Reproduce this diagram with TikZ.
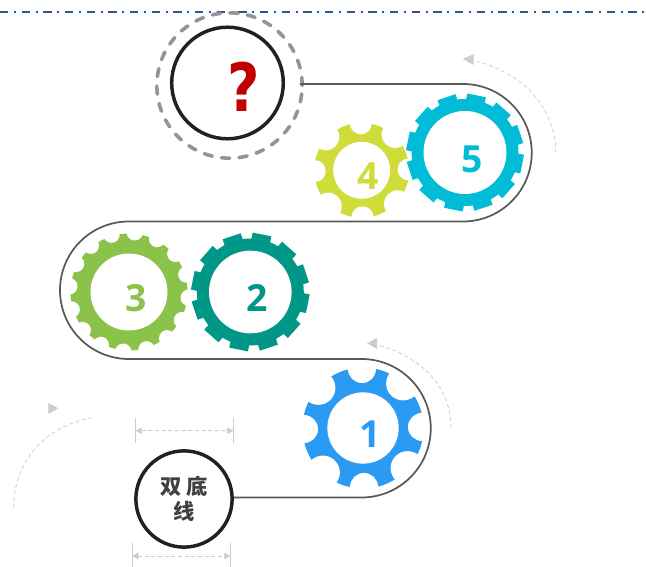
\documentclass[tikz,border=0pt]{standalone}
\usepackage{fontspec}
\setmainfont{Open Sans}
\newfontfamily\cjkfont{Noto Sans CJK SC}
\newfontfamily\markfont{DejaVu Sans}
\usetikzlibrary{arrows.meta,positioning}
\definecolor{gearone}{HTML}{2A9AF3}
\definecolor{geartwo}{HTML}{009688}
\definecolor{gearthree}{HTML}{8BC34A}
\definecolor{gearfour}{HTML}{CFDC39}
\definecolor{gearfive}{HTML}{00BCD6}
\definecolor{topblue}{HTML}{2F5597}
\definecolor{markred}{HTML}{C00000}
\tikzset{
    %Define standard arrow tip
    >={Triangle[length=6pt,width=6pt]},
    %Define style for gear holes
    hole/.style={
           circle,
           fill=white,
           inner sep=0pt,
           outer sep=0pt},
    % Define style for gear numbers
    num/.style={
           font=\bfseries\fontsize{28}{28}\selectfont,
           inner sep=0pt},
    % Define style for black circles
    blackring/.style={
           circle,
           draw=black!87,
           line width=2.6pt,
           inner sep=0pt},
    % Define track style
    track/.style={
           draw=black!65,
           line width=1.3pt},
    % Define style for thin gray arrows
    pil/.style={
           draw=black!20,
           line width=.55pt,
           dash pattern=on 3pt off 2pt},
    dim/.style={
           <->,
           >={Triangle[length=4.5pt,width=5pt]},
           draw=black!20,
           line width=.6pt,
           dash pattern=on 3pt off 2pt},
    tick/.style={
           draw=black!20,
           line width=.7pt}
}
\begin{document}
\begin{tikzpicture}[x=.75pt,y=.75pt]
\useasboundingbox (0,0) rectangle (646,567);
%Top line
\coordinate (topa) at (0,555.3);
\coordinate (topb) at (646,555.3);
\draw[draw=topblue, line width=1.5pt, dash pattern=on 6.25pt off 4.25pt on 1.5pt off 4.25pt] (topa) -- (topb);
%Gear centers
\coordinate (c1) at (363,139);
\coordinate (c2) at (250.3,275);
\coordinate (c3) at (129,275);
\coordinate (c4) at (361.7,396.7);
\coordinate (c5) at (465,414.5);
%Gear 4
\fill[gearfour] (c4) circle (47.5);
\foreach \a in {0,90,180,270} \fill[white] (c4) ++(\a+1:47) circle (11);
\foreach \a in {45,135,225,315} \fill[white] (c4) ++(\a+2:49) circle (13.5);
\node[hole, minimum size=42.75pt] (gear4) at (c4) {};
%Gear 5
\fill[gearfive] (c5) circle (53.5);
\foreach \a in {0,30,...,330} \fill[gearfive, shift={(c5)}, rotate=\a-11.5] (-9.5,50) rectangle (9.5,58.3);
\node[hole, minimum size=62.25pt] (gear5) at (c5) {};
%Gear 3
\fill[gearthree] (c3) circle (58.5);
\foreach \a in {0,22.5,...,337.5} \fill[white] (c3) ++(\a+17:60) circle (8.2);
\node[hole, minimum size=57.75pt] (gear3) at (c3) {};
%Gear 2
\fill[geartwo] (c2) circle (53.5);
\foreach \a in {0,30,...,330} \fill[geartwo, shift={(c2)}, rotate=\a-11.5] (-9.5,50) rectangle (9.5,58.7);
\node[hole, minimum size=62pt] (gear2) at (c2) {};
%Gear 1
\fill[gearone] (c1) circle (60.5);
\foreach \a in {0,90,180,270} \fill[white] (c1) ++(\a+1:59) circle (14);
\foreach \a in {45,135,225,315} \fill[white] (c1) ++(\a+3:60) circle (17);
\node[hole, minimum size=53.5pt] (gear1) at (c1) {};
%Numbers
\node[num, text=gearone] (num1) at ([shift={(5.6pt,-4.5pt)}]gear1) {1};
\node[num, text=geartwo] (num2) at ([shift={(4.9pt,-4.5pt)}]gear2) {2};
\node[num, text=gearthree] (num3) at ([shift={(5.6pt,-4.5pt)}]gear3) {3};
\node[num, text=gearfour] (num4) at ([shift={(5pt,-4.3pt)}]gear4) {4};
\node[num, text=gearfive] (num5) at ([shift={(5.2pt,-4.9pt)}]gear5) {5};
%Circles
\node[circle, draw=black!42, line width=2.7pt, line cap=round, dash pattern=on 6.2pt off 7pt, inner sep=0pt, minimum size=109pt] (ring) at (229.5,481.5) {};
\node[blackring, minimum size=83.7pt] (ask) at (227.5,484) {};
\node[font=\markfont\bfseries\fontsize{50}{50}\selectfont, text=markred, inner sep=0pt, xscale=.84] (mark) at (243.5,480) {?};
\node[blackring, minimum size=72.2pt, align=center, text=black!75, font=\cjkfont\bfseries\fontsize{16}{18.75}\selectfont] (base) at (184,68) {双\hspace{3.5pt}底\\线};
%Track
\coordinate (t1) at (463,483);
\coordinate (t2) at (128.75,345.5);
\coordinate (t3) at (361.5,208);
\coordinate (t4) at (361.5,69.5);
\draw[track, shorten <=-3pt] (ring.east |- t1) -- (t1) arc (90:-90:51.56pt) -- (t2) arc (90:270:51.56pt) -- (t3) arc (90:-90:51.94pt) -- (base.east |- t4);
%Curved arrows
\coordinate (arca) at (555.7,414.3);
\coordinate (arcb) at (463,508);
\coordinate (arcc) at (451,139.3);
\coordinate (arcd) at (367.3,223.7);
\coordinate (arce) at (13.7,59.3);
\coordinate (arcf) at (95,149.7);
\draw[pil] (arca) .. controls (555.7,466) and (512,502) .. (arcb);
\draw[pil] (arcc) .. controls (451,186) and (412,217) .. (arcd);
\draw[pil] (arce) .. controls (13.7,110) and (50,143) .. (arcf);
\fill[black!20] (arcb) -- (473.7,513) -- (473.7,502) -- cycle;
\fill[black!20] (arcd) -- (377,229) -- (377,218) -- cycle;
\fill[black!20] (48.3,164) -- (58.3,158.7) -- (48.3,153) -- cycle;
%Dimension marks
\coordinate (da) at (135.7,136.3);
\coordinate (db) at (233.3,136.3);
\coordinate (dc) at (132.3,11);
\coordinate (dd) at (230.3,11);
\draw[tick] (135.7,149) -- (135.7,124.3);
\draw[tick] (233.3,149) -- (233.3,124.3);
\draw[tick] (132.3,23.7) -- (132.3,0);
\draw[tick] (230.3,23.7) -- (230.3,0);
\draw[dim] (da) -- (db);
\draw[dim] (dc) -- (dd);
\end{tikzpicture}
\end{document}
